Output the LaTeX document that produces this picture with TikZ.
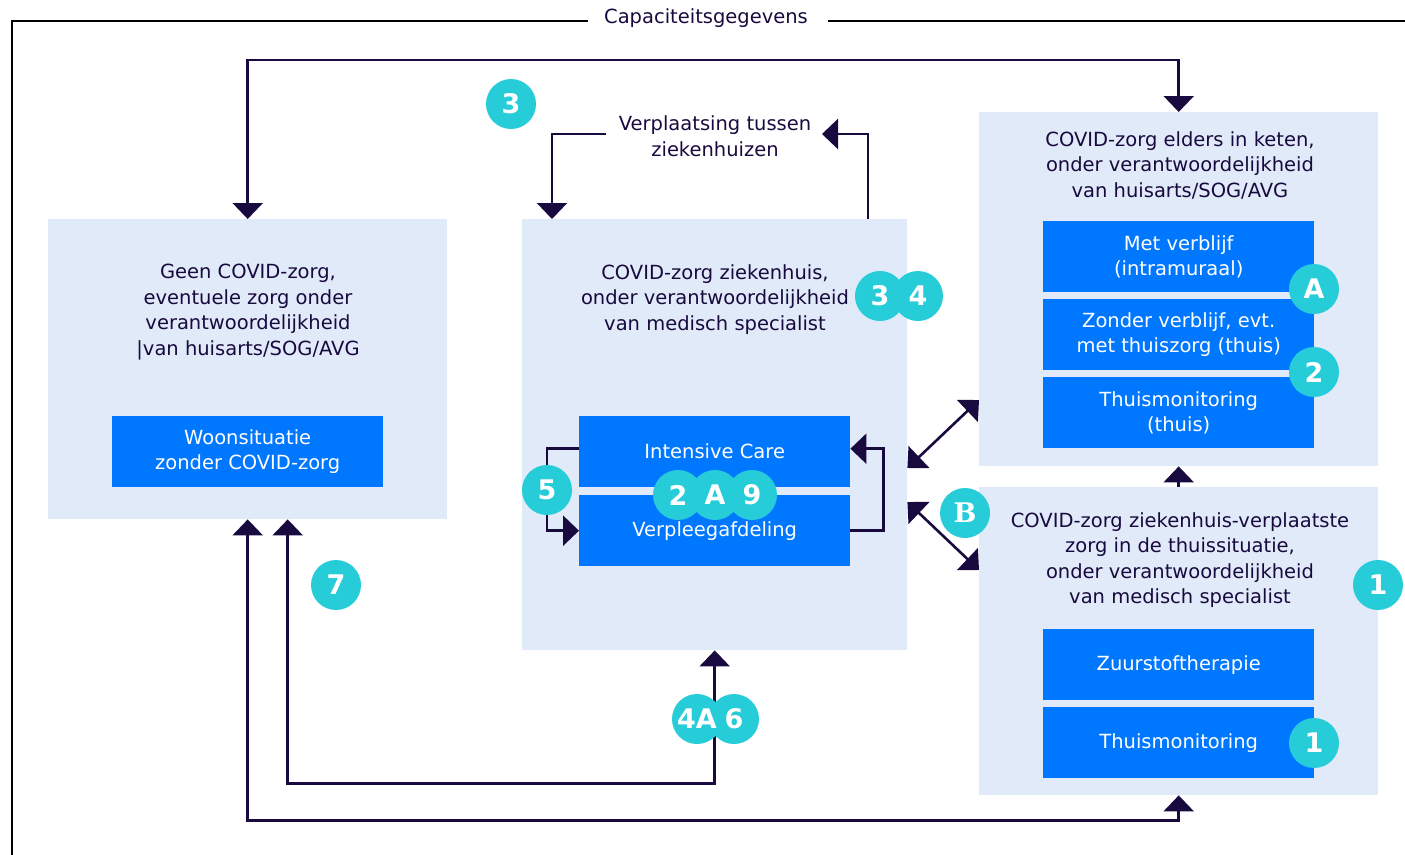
\documentclass[tikz,border=0pt]{standalone}
\usepackage{fontspec}
\setmainfont{DejaVu Sans}
\newfontfamily\serifbadge{DejaVu Serif}
\usetikzlibrary{arrows.meta}
\definecolor{navy}{RGB}{24,10,62}
\definecolor{panelc}{RGB}{225,234,249}
\definecolor{boxc}{RGB}{0,119,255}
\definecolor{tealc}{RGB}{38,205,216}
\begin{document}
\begin{tikzpicture}[x=1pt,y=-1pt,
  panel/.style={fill=panelc, draw=none, inner sep=0pt, anchor=north west},
  bluebox/.style={fill=boxc, text=white, inner sep=0pt, anchor=north west, align=center,
    minimum width=271pt, minimum height=71pt, font=\fontsize{19.5}{25.5}\selectfont},
  ttl/.style={text=navy, align=center, inner sep=0pt, font=\fontsize{19.5}{25.5}\selectfont},
  badge/.style={circle, fill=tealc, text=white, minimum size=50pt, inner sep=0pt,
    font=\fontsize{27}{27}\selectfont\bfseries},
  conn/.style={draw=navy, line width=2.6pt},
  tip/.style={-{Triangle[width=30pt,length=16pt]}},
  tips/.style={{Triangle[width=30pt,length=16pt]}-{Triangle[width=30pt,length=16pt]}},
  frame/.style={draw=black, line width=2pt}]
\useasboundingbox (0,0) rectangle (1405,854);

% outer frame
\node[text=navy, font=\fontsize{19.5}{20}\selectfont, inner sep=0pt] (cap) at (706,18) {Capaciteitsgegevens};
\draw[frame] (588,21) -- (12,21) -- (12,856);
\draw[frame] (828,21) -- (1407,21);

% panels
\node[panel, minimum width=399pt, minimum height=300pt] (left) at (48,219) {};
\node[panel, minimum width=385pt, minimum height=431pt] (mid) at (522,219) {};
\node[panel, minimum width=399pt, minimum height=354pt] (rtop) at (979,112) {};
\node[panel, minimum width=399pt, minimum height=308pt] (rbot) at (979,487) {};

% panel titles
\node[ttl] (tleft) at (248,312) {Geen COVID-zorg,\\eventuele zorg onder\\verantwoordelijkheid\\|van huisarts/SOG/AVG};
\node[ttl] (tmid) at (715,299.5) {COVID-zorg ziekenhuis,\\onder verantwoordelijkheid\\van medisch specialist};
\node[ttl] (trtop) at (1180,165) {COVID-zorg elders in keten,\\onder verantwoordelijkheid\\van huisarts/SOG/AVG};
\node[ttl] (trbot) at (1180,560) {COVID-zorg ziekenhuis-verplaatste\\zorg in de thuissituatie,\\onder verantwoordelijkheid\\van medisch specialist};

% blue boxes
\node[bluebox] (woon) at (112,416) {Woonsituatie\\zonder COVID-zorg};
\node[bluebox] (ic) at (579,416) {Intensive Care};
\node[bluebox] (verp) at (579,495) {Verpleegafdeling};
\node[bluebox] (met) at (1043,221) {Met verblijf\\(intramuraal)};
\node[bluebox] (zonder) at (1043,299) {Zonder verblijf, evt.\\met thuiszorg (thuis)};
\node[bluebox] (thuis1) at (1043,377) {Thuismonitoring\\(thuis)};
\node[bluebox] (zuur) at (1043,629) {Zuurstoftherapie};
\node[bluebox] (thuis2) at (1043,707) {Thuismonitoring};

% helper coordinates
\coordinate (vr) at (822,134);
\coordinate (vl) at (606,134);
\coordinate (h1) at (0,468);
\coordinate (h2) at (0,400);
\coordinate (h3) at (0,502);
\coordinate (h4) at (0,570);

% connectors
\draw[conn, tips] (left.north) -- ++(0,-159) -| (rtop.north);
\draw[conn, tip] ([xshift=346pt]mid.north west) |- (vr);
\draw[conn, tip] (vl) -| ([xshift=30pt]mid.north west);
\draw[conn, tip] (verp.east) -- ++(33,0) |- ([yshift=3pt]ic.east);
\draw[conn, tip] ([yshift=3pt]ic.west) -- ++(-32,0) |- (verp.west);
\draw[conn, tips] (mid.east |- h1) -- (rtop.west |- h2);
\draw[conn, tips] (mid.east |- h3) -- (rbot.west |- h4);
\draw[conn, tip] (rbot.north) -- (rtop.south);
\draw[conn, tips] (left.south) -- ++(0,301) -| (rbot.south);
\draw[conn, tips] ([xshift=40pt]left.south) -- ++(0,264) -| (mid.south);

% Verplaatsing label
\node[ttl] (verpl) at (715,136) {Verplaatsing tussen\\ziekenhuizen};

% badges
\node[badge] (b3a) at (511,104) {3};
\node[badge] (b4) at (918,296) {4};
\node[badge] (b3b) at (880,296) {3};
\node[badge] (b5) at (547,490) {5};
\node[badge] (b9) at (752,495) {9};
\node[badge] (bA) at (715,495) {A};
\node[badge] (b2) at (678,495) {2};
\node[badge] (bA2) at (1314,289) {A};
\node[badge] (b22) at (1314,372) {2};
\node[badge, font=\fontsize{27}{27}\selectfont\serifbadge\bfseries] (bB) at (965,513) {B};
\node[badge] (b1a) at (1378,585) {1};
\node[badge] (b1b) at (1314,743) {1};
\node[badge] (b7) at (336,585) {7};
\node[badge] (b6) at (734,719) {6};
\node[badge] (b4A) at (697,719) {4A};
\end{tikzpicture}
\end{document}
